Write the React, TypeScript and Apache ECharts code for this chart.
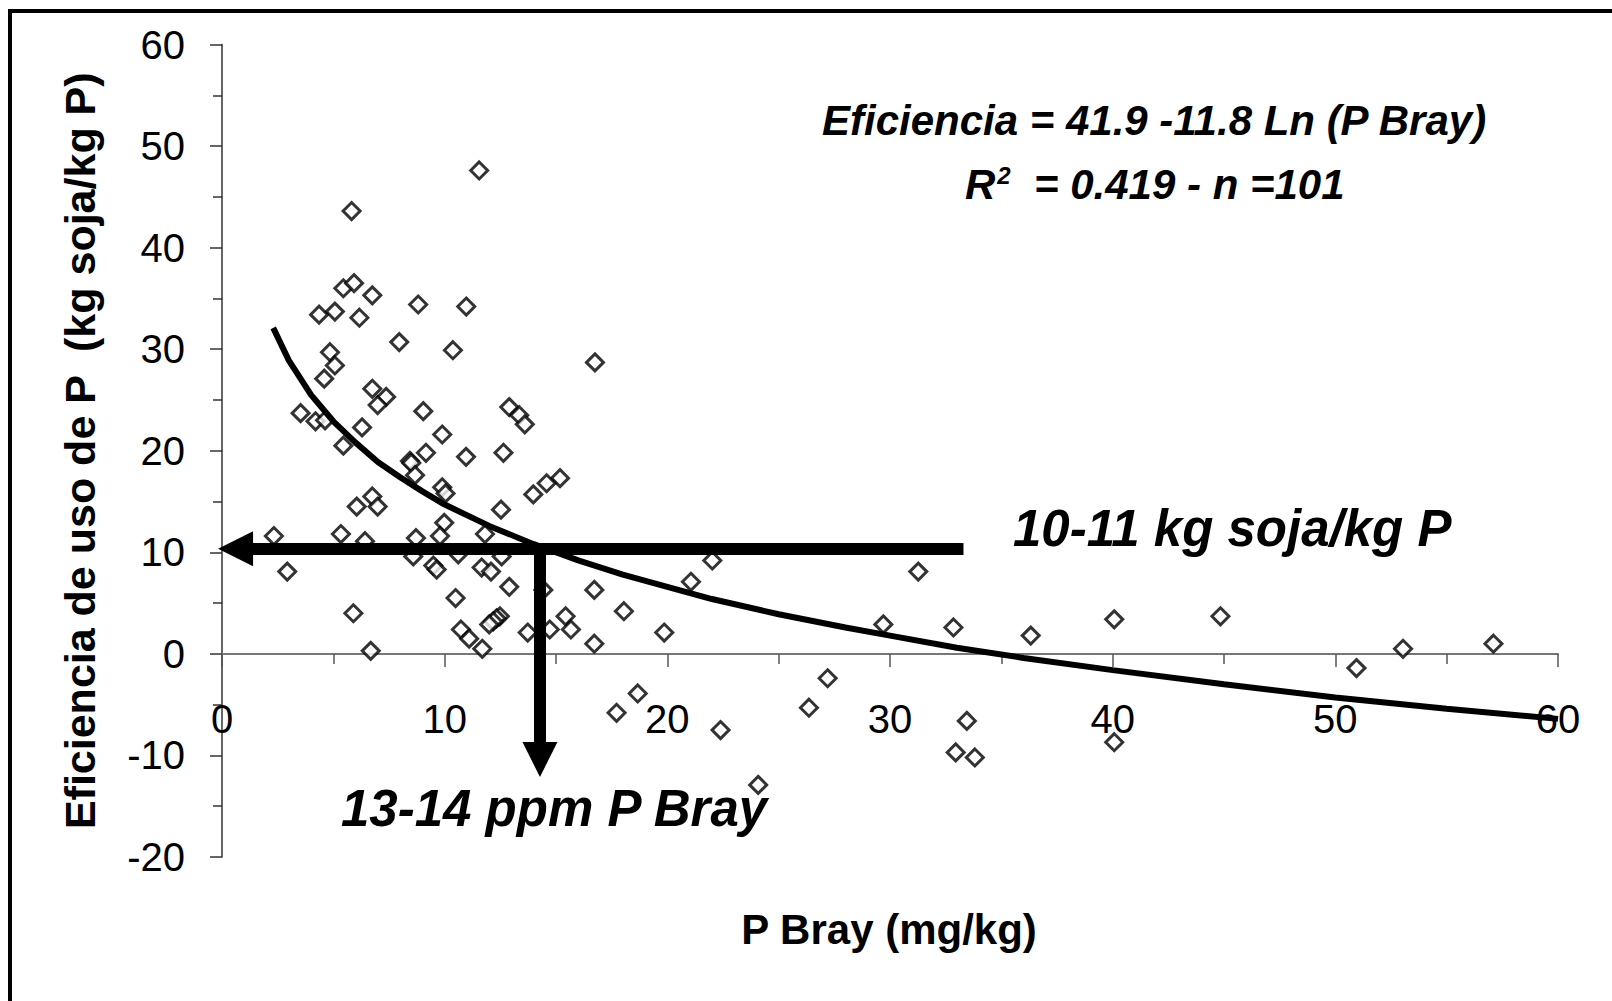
import React, { useEffect, useRef } from "react";
import * as echarts from "echarts";

// Scatter observations: P Bray (mg/kg) and P use efficiency (kg soja/kg P)
const pBray = [
  11.55, 5.82, 5.45, 5.93, 6.75, 8.81, 10.97, 4.36, 5.07, 6.17,
  7.96, 10.37, 16.75, 4.85, 5.07, 4.59, 6.75, 7.37, 6.99, 9.04,
  12.9, 13.35, 13.6, 3.53, 4.2, 4.63, 6.29, 9.89, 5.45, 10.96,
  12.64, 9.16, 8.44, 8.5, 8.67, 15.18, 14.58, 13.98, 9.89, 10.04,
  6.75, 6.05, 6.99, 12.53, 9.98, 2.33, 5.34, 6.42, 8.71, 9.79,
  11.81, 8.59, 10.61, 12.56, 2.93, 9.49, 9.64, 11.66, 12.08, 12.9,
  14.43, 16.72, 10.49, 5.9, 15.43, 12.48, 12.33, 12.18, 12.0, 10.73,
  15.67, 13.73, 14.72, 11.1, 16.72, 11.69, 6.68, 22.02, 21.06, 31.27,
  18.05, 19.86, 29.7, 32.85, 27.2, 18.67, 17.72, 26.36, 22.39, 24.08,
  32.95, 36.32, 40.07, 44.84, 53.04, 57.1, 50.95, 33.45, 33.81, 40.07,
];
const eficiencia = [
  47.6, 43.6, 36.0, 36.5, 35.3, 34.4, 34.2, 33.4, 33.7, 33.1,
  30.7, 29.9, 28.7, 29.7, 28.4, 27.1, 26.1, 25.3, 24.5, 23.9,
  24.3, 23.5, 22.6, 23.7, 22.9, 23.0, 22.3, 21.6, 20.5, 19.4,
  19.8, 19.8, 19.0, 18.8, 17.6, 17.3, 16.8, 15.7, 16.4, 15.8,
  15.5, 14.5, 14.5, 14.2, 12.9, 11.6, 11.8, 11.1, 11.4, 11.6,
  11.8, 9.6, 9.8, 9.6, 8.1, 8.7, 8.3, 8.5, 8.1, 6.6,
  6.3, 6.3, 5.5, 4.0, 3.7, 3.7, 3.5, 3.2, 2.9, 2.4,
  2.4, 2.1, 2.4, 1.5, 1.0, 0.5, 0.3, 9.2, 7.1, 8.1,
  4.2, 2.1, 2.9, 2.6, -2.4, -3.9, -5.8, -5.3, -7.5, -12.9,
  -9.7, 1.8, 3.4, 3.7, 0.5, 1.0, -1.4, -6.6, -10.2, -8.7,
];

// Logarithmic trend line
const trendX = [2.3, 3, 4, 5, 6, 7, 8, 9, 10, 12, 14, 16, 18, 20, 22, 25, 28, 30, 33, 36, 40, 45, 50, 55, 60];
const trendY = [32.1, 28.9, 25.5, 22.9, 20.8, 18.9, 17.4, 16.0, 14.7, 12.6, 10.8, 9.2, 7.8, 6.6, 5.4, 3.9, 2.6, 1.8, 0.6, -0.4, -1.6, -3.0, -4.3, -5.4, -6.4];

// Axis ranges / ticks
const xMin = 0, xMax = 60, xStep = 10;
const yMin = -20, yMax = 60, yStep = 10;

// Annotation arrows (data coordinates)
const arrowLevel = 10.35; // kg soja/kg P
const arrowStartX = 33.3;
const arrowEndX = 0.61;
const criticalP = 14.28; // ppm
const arrowEndY = -10.4;

const eqLine1 = "Eficiencia = 41.9 -11.8 Ln (P Bray)";
const eqLine2 = "{r|R}{s|2}{t|  = 0.419 - n =101}";
const annotY = "10-11 kg soja/kg P";
const annotX = "13-14 ppm P Bray";
const xTitle = "P Bray (mg/kg)";
const yTitle = "Eficiencia de uso de P  (kg soja/kg P)";

const FONT = '"Liberation Sans", Arial, Helvetica, sans-serif';

export default function App() {
  const ref = useRef<HTMLDivElement>(null);
  useEffect(() => {
    if (!ref.current) return;
    const chart = echarts.init(ref.current, null, { renderer: "svg" });
    const scatterData = pBray.map((x, i) => [x, eficiencia[i]]);
    const trendData = trendX.map((x, i) => [x, trendY[i]]);
    const italicBold = { fontFamily: FONT, fontStyle: "italic", fontWeight: "bold", fill: "#000" };
    chart.setOption({
      animation: false,
      backgroundColor: "#fff",
      grid: { left: 222, right: 54, top: 44.5, bottom: 144, containLabel: false, outerBoundsMode: "none" },
      xAxis: {
        type: "value",
        min: xMin,
        max: xMax,
        interval: xStep,
        axisLine: { show: true, onZero: true, lineStyle: { color: "#777", width: 2 } },
        axisTick: { show: true, inside: false, length: 13, lineStyle: { color: "#555", width: 1.5 } },
        minorTick: { show: true, splitNumber: 2, length: 10, lineStyle: { color: "#555", width: 1.5 } },
        axisLabel: { fontFamily: FONT, fontSize: 40, color: "#000", margin: -158 },
        splitLine: { show: false },
      },
      yAxis: {
        type: "value",
        min: yMin,
        max: yMax,
        interval: yStep,
        name: yTitle,
        nameLocation: "middle",
        nameRotate: 90,
        nameGap: 121,
        nameTextStyle: { fontFamily: FONT, fontWeight: "bold", fontSize: 43, color: "#000" },
        axisLine: { show: true, lineStyle: { color: "#333", width: 1.5 } },
        axisTick: { show: true, inside: false, length: 12, lineStyle: { color: "#333", width: 1.5 } },
        minorTick: { show: true, splitNumber: 2, length: 9, lineStyle: { color: "#333", width: 1.5 } },
        axisLabel: { fontFamily: FONT, fontSize: 40, color: "#000", margin: 37 },
        splitLine: { show: false },
      },
      series: [
        {
          type: "scatter",
          data: scatterData,
          symbol: "diamond",
          symbolSize: 17,
          itemStyle: { color: "#fff", borderColor: "#000", borderWidth: 3 },
          z: 2,
          silent: true,
        },
        {
          type: "line",
          data: trendData,
          showSymbol: false,
          symbol: "none",
          smooth: false,
          lineStyle: { color: "#000", width: 6 },
          z: 3,
          silent: true,
          markLine: {
            silent: true,
            symbol: ["none", "triangle"],
            symbolSize: [35, 35],
            label: { show: false },
            lineStyle: { type: "solid", color: "#000", width: 12, opacity: 1 },
            emphasis: { disabled: true },
            data: [
              [{ coord: [arrowStartX, arrowLevel] }, { coord: [arrowEndX, arrowLevel] }],
              [{ coord: [criticalP, arrowLevel + 0.55] }, { coord: [criticalP, arrowEndY] }],
            ],
          },
        },
      ],
      graphic: [
        { type: "rect", shape: { x: 8, y: 9, width: 4, height: 992 }, style: { fill: "#000" }, silent: true },
        { type: "rect", shape: { x: 8, y: 9, width: 1604, height: 4 }, style: { fill: "#000" }, silent: true },
        {
          type: "text",
          x: 889,
          y: 929,
          style: { text: xTitle, fontFamily: FONT, fontWeight: "bold", fontSize: 42, fill: "#000", textAlign: "center", textVerticalAlign: "middle" },
          silent: true,
        },
        {
          type: "text",
          x: 822,
          y: 120,
          style: { ...italicBold, text: eqLine1, fontSize: 42, textAlign: "left", textVerticalAlign: "middle" },
          silent: true,
        },
        {
          type: "text",
          x: 965,
          y: 184,
          style: {
            text: eqLine2,
            textAlign: "left",
            textVerticalAlign: "middle",
            rich: {
              r: { fontFamily: FONT, fontStyle: "italic", fontWeight: "bold", fontSize: 42, color: "#000" },
              s: { fontFamily: FONT, fontStyle: "italic", fontWeight: "bold", fontSize: 24, color: "#000", verticalAlign: "top", padding: [0, 0, 18, 2] },
              t: { fontFamily: FONT, fontStyle: "italic", fontWeight: "bold", fontSize: 42, color: "#000" },
            },
          },
          silent: true,
        },
        {
          type: "text",
          x: 1013,
          y: 528,
          style: { ...italicBold, text: annotY, fontSize: 51, textAlign: "left", textVerticalAlign: "middle" },
          silent: true,
        },
        {
          type: "text",
          x: 341,
          y: 808,
          style: { ...italicBold, text: annotX, fontSize: 51, textAlign: "left", textVerticalAlign: "middle" },
          silent: true,
        },
      ],
    });
    return () => chart.dispose();
  }, []);
  return (
    <div
      ref={ref}
      style={{ position: "absolute", left: 0, top: 0, width: 1612, height: 1001, background: "#fff" }}
    />
  );
}
